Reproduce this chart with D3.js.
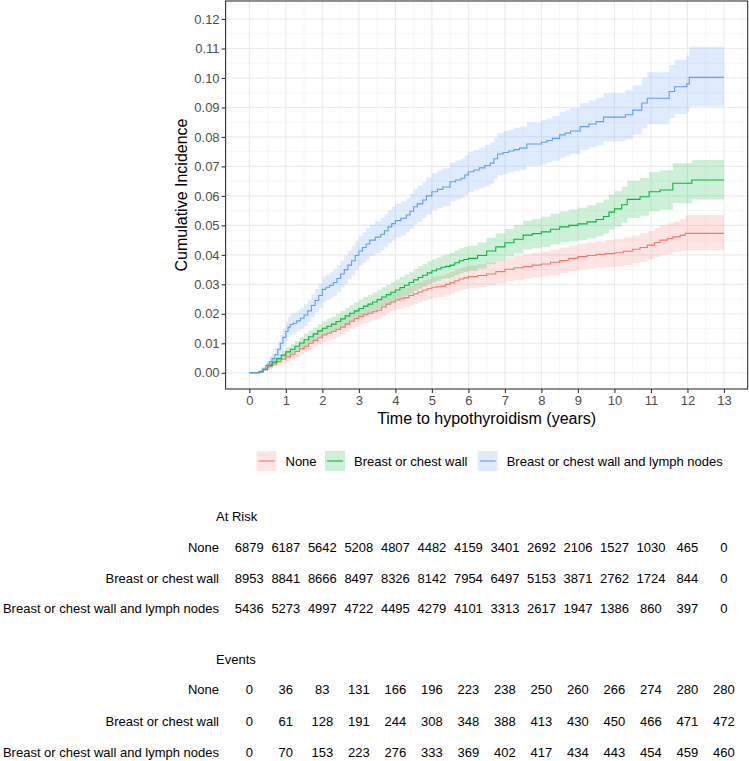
<!DOCTYPE html>
<html>
<head>
<meta charset="utf-8">
<script src="https://cdn.jsdelivr.net/npm/d3@7"></script>
<style>
  body { margin: 0; background: #fff; }
  svg { font-family: "Liberation Sans", Arial, sans-serif; }
</style>
</head>
<body>
<svg id="chart" width="749" height="761"></svg>
<script>
// groups, in legend order
var groups = ["None", "Breast or chest wall", "Breast or chest wall and lymph nodes"];
var colors = ["#F8766D", "#00BA38", "#619CFF"];

var xTicks = [0, 1, 2, 3, 4, 5, 6, 7, 8, 9, 10, 11, 12, 13];
var yTicks = [0, 0.01, 0.02, 0.03, 0.04, 0.05, 0.06, 0.07, 0.08, 0.09, 0.10, 0.11, 0.12];

// [time, estimate, lower, upper]
var noneCurve = [
  [0, 0, 0, 0], [0.27, 0.0003, 0.0001, 0.0005], [0.375, 0.0011, 0.0006, 0.0016],
  [0.5, 0.0022, 0.0012, 0.0032], [0.625, 0.0030, 0.0018, 0.0042], [0.75, 0.0038, 0.0025, 0.0051],
  [0.875, 0.0046, 0.0031, 0.0061], [1.0, 0.0054, 0.0038, 0.0070], [1.125, 0.0063, 0.0046, 0.0080],
  [1.25, 0.0072, 0.0054, 0.0090], [1.375, 0.0081, 0.0062, 0.0100], [1.5, 0.0090, 0.0070, 0.0110],
  [1.625, 0.0100, 0.0079, 0.0121], [1.75, 0.0110, 0.0088, 0.0132], [1.875, 0.0119, 0.0096, 0.0142],
  [2.0, 0.0128, 0.0104, 0.0152], [2.125, 0.0134, 0.0110, 0.0158], [2.25, 0.0140, 0.0115, 0.0165],
  [2.375, 0.0147, 0.0122, 0.0172], [2.5, 0.0155, 0.0129, 0.0181], [2.625, 0.0165, 0.0139, 0.0191],
  [2.75, 0.0175, 0.0148, 0.0202], [2.875, 0.0184, 0.0157, 0.0211], [3.0, 0.0192, 0.0164, 0.0220],
  [3.125, 0.0197, 0.0169, 0.0225], [3.25, 0.0202, 0.0173, 0.0231], [3.375, 0.0207, 0.0178, 0.0236],
  [3.5, 0.0212, 0.0182, 0.0242], [3.625, 0.0223, 0.0193, 0.0253], [3.75, 0.0233, 0.0202, 0.0264],
  [3.875, 0.0240, 0.0209, 0.0271], [4.0, 0.0247, 0.0215, 0.0279], [4.125, 0.0251, 0.0219, 0.0283],
  [4.25, 0.0255, 0.0222, 0.0288], [4.375, 0.0262, 0.0229, 0.0295], [4.5, 0.0268, 0.0234, 0.0302],
  [4.625, 0.0274, 0.0240, 0.0308], [4.75, 0.0280, 0.0245, 0.0315], [4.875, 0.0285, 0.0250, 0.0320],
  [5.0, 0.0290, 0.0254, 0.0326], [5.125, 0.0292, 0.0256, 0.0328], [5.25, 0.0294, 0.0258, 0.0330],
  [5.375, 0.0300, 0.0263, 0.0337], [5.5, 0.0305, 0.0268, 0.0342], [5.625, 0.0312, 0.0274, 0.0350],
  [5.75, 0.0318, 0.0280, 0.0356], [5.875, 0.0322, 0.0284, 0.0360], [6.0, 0.0326, 0.0288, 0.0364],
  [6.25, 0.0330, 0.0291, 0.0369], [6.5, 0.0335, 0.0296, 0.0374], [6.75, 0.0343, 0.0303, 0.0383],
  [7.0, 0.0351, 0.0311, 0.0391], [7.25, 0.0356, 0.0315, 0.0397], [7.5, 0.0360, 0.0319, 0.0401],
  [7.75, 0.0365, 0.0323, 0.0407], [8.0, 0.0369, 0.0327, 0.0411], [8.25, 0.0375, 0.0332, 0.0418],
  [8.5, 0.0381, 0.0338, 0.0424], [8.75, 0.0388, 0.0344, 0.0432], [9.0, 0.0394, 0.0350, 0.0438],
  [9.25, 0.0398, 0.0353, 0.0443], [9.5, 0.0401, 0.0356, 0.0446], [9.75, 0.0404, 0.0358, 0.0450],
  [10.0, 0.0407, 0.0361, 0.0453], [10.25, 0.0412, 0.0366, 0.0459], [10.5, 0.0419, 0.0372, 0.0466],
  [10.7, 0.0425, 0.0377, 0.0473], [10.9, 0.0433, 0.0385, 0.0481], [11.1, 0.0442, 0.0393, 0.0491],
  [11.25, 0.0450, 0.0400, 0.0500], [11.45, 0.0455, 0.0404, 0.0506], [11.6, 0.0461, 0.0409, 0.0513],
  [11.8, 0.0466, 0.0412, 0.0522], [11.94, 0.0473, 0.0416, 0.0535], [13, 0.0473, 0.0416, 0.0535]
];

var chestCurve = [
  [0, 0, 0, 0], [0.27, 0.0003, 0.0001, 0.0005], [0.375, 0.0012, 0.0006, 0.0018],
  [0.5, 0.0025, 0.0015, 0.0035], [0.625, 0.0036, 0.0024, 0.0048], [0.75, 0.0048, 0.0035, 0.0061],
  [0.875, 0.0060, 0.0045, 0.0075], [1.0, 0.0071, 0.0055, 0.0087], [1.125, 0.0080, 0.0063, 0.0097],
  [1.25, 0.0090, 0.0072, 0.0108], [1.375, 0.0101, 0.0082, 0.0120], [1.5, 0.0112, 0.0092, 0.0132],
  [1.625, 0.0122, 0.0101, 0.0143], [1.75, 0.0132, 0.0110, 0.0154], [1.875, 0.0142, 0.0119, 0.0165],
  [2.0, 0.0151, 0.0127, 0.0175], [2.125, 0.0158, 0.0133, 0.0183], [2.25, 0.0165, 0.0140, 0.0190],
  [2.375, 0.0174, 0.0148, 0.0200], [2.5, 0.0183, 0.0156, 0.0210], [2.625, 0.0193, 0.0165, 0.0221],
  [2.75, 0.0202, 0.0174, 0.0230], [2.875, 0.0210, 0.0181, 0.0239], [3.0, 0.0218, 0.0188, 0.0248],
  [3.125, 0.0226, 0.0195, 0.0257], [3.25, 0.0233, 0.0202, 0.0264], [3.375, 0.0240, 0.0208, 0.0272],
  [3.5, 0.0248, 0.0216, 0.0280], [3.625, 0.0257, 0.0224, 0.0290], [3.75, 0.0265, 0.0232, 0.0298],
  [3.875, 0.0273, 0.0239, 0.0307], [4.0, 0.0281, 0.0246, 0.0316], [4.125, 0.0289, 0.0253, 0.0325],
  [4.25, 0.0297, 0.0261, 0.0333], [4.375, 0.0306, 0.0269, 0.0343], [4.5, 0.0315, 0.0278, 0.0352],
  [4.625, 0.0323, 0.0285, 0.0361], [4.75, 0.0331, 0.0293, 0.0369], [4.875, 0.0339, 0.0300, 0.0378],
  [5.0, 0.0346, 0.0307, 0.0385], [5.125, 0.0352, 0.0312, 0.0392], [5.25, 0.0358, 0.0318, 0.0398],
  [5.375, 0.0361, 0.0321, 0.0401], [5.5, 0.0365, 0.0324, 0.0406], [5.625, 0.0373, 0.0331, 0.0415],
  [5.75, 0.0380, 0.0338, 0.0422], [5.875, 0.0384, 0.0341, 0.0427], [6.0, 0.0388, 0.0345, 0.0431],
  [6.25, 0.0398, 0.0354, 0.0442], [6.5, 0.0413, 0.0368, 0.0458], [6.75, 0.0427, 0.0381, 0.0473],
  [7.0, 0.0441, 0.0394, 0.0488], [7.25, 0.0453, 0.0405, 0.0501], [7.5, 0.0467, 0.0418, 0.0516],
  [7.75, 0.0472, 0.0422, 0.0522], [8.0, 0.0478, 0.0427, 0.0529], [8.25, 0.0487, 0.0435, 0.0539],
  [8.5, 0.0495, 0.0442, 0.0548], [8.75, 0.0500, 0.0446, 0.0554], [9.0, 0.0505, 0.0450, 0.0560],
  [9.25, 0.0512, 0.0456, 0.0568], [9.5, 0.0520, 0.0463, 0.0577], [9.7, 0.0530, 0.0472, 0.0588],
  [9.85, 0.0545, 0.0486, 0.0604], [10.0, 0.0556, 0.0496, 0.0616], [10.2, 0.0570, 0.0509, 0.0631],
  [10.35, 0.0588, 0.0525, 0.0651], [10.7, 0.0597, 0.0533, 0.0661], [10.95, 0.0614, 0.0548, 0.0680],
  [11.25, 0.0620, 0.0553, 0.0687], [11.6, 0.0643, 0.0575, 0.0711], [12.12, 0.0654, 0.0588, 0.0722],
  [13, 0.0654, 0.0588, 0.0722]
];

var nodesCurve = [
  [0, 0, 0, 0], [0.27, 0.0005, 0.0001, 0.0009], [0.35, 0.0012, 0.0004, 0.0020],
  [0.45, 0.0025, 0.0012, 0.0038], [0.55, 0.0038, 0.0021, 0.0055], [0.62, 0.0048, 0.0029, 0.0067],
  [0.7, 0.0062, 0.0040, 0.0084], [0.78, 0.0080, 0.0055, 0.0105], [0.85, 0.0100, 0.0072, 0.0128],
  [0.92, 0.0120, 0.0090, 0.0150], [1.0, 0.0140, 0.0108, 0.0172], [1.06, 0.0155, 0.0121, 0.0189],
  [1.12, 0.0164, 0.0129, 0.0199], [1.2, 0.0168, 0.0133, 0.0203], [1.3, 0.0176, 0.0140, 0.0212],
  [1.4, 0.0185, 0.0149, 0.0221], [1.5, 0.0196, 0.0159, 0.0233], [1.6, 0.0210, 0.0172, 0.0248],
  [1.7, 0.0228, 0.0189, 0.0267], [1.8, 0.0245, 0.0205, 0.0285], [1.9, 0.0262, 0.0221, 0.0303],
  [2.0, 0.0283, 0.0240, 0.0326], [2.1, 0.0290, 0.0247, 0.0333], [2.2, 0.0297, 0.0253, 0.0341],
  [2.3, 0.0306, 0.0261, 0.0351], [2.4, 0.0320, 0.0274, 0.0366], [2.5, 0.0335, 0.0289, 0.0381],
  [2.6, 0.0350, 0.0303, 0.0397], [2.7, 0.0365, 0.0317, 0.0413], [2.8, 0.0380, 0.0331, 0.0429],
  [2.9, 0.0398, 0.0348, 0.0448], [3.0, 0.0413, 0.0362, 0.0464], [3.1, 0.0425, 0.0373, 0.0477],
  [3.2, 0.0437, 0.0384, 0.0490], [3.3, 0.0450, 0.0397, 0.0503], [3.45, 0.0460, 0.0406, 0.0514],
  [3.6, 0.0470, 0.0415, 0.0525], [3.7, 0.0482, 0.0426, 0.0538], [3.8, 0.0495, 0.0439, 0.0551],
  [3.9, 0.0506, 0.0449, 0.0563], [4.0, 0.0516, 0.0459, 0.0573], [4.15, 0.0524, 0.0466, 0.0582],
  [4.3, 0.0535, 0.0477, 0.0593], [4.4, 0.0548, 0.0489, 0.0607], [4.5, 0.0563, 0.0503, 0.0623],
  [4.6, 0.0573, 0.0512, 0.0634], [4.75, 0.0586, 0.0525, 0.0647], [4.85, 0.0600, 0.0538, 0.0662],
  [5.0, 0.0614, 0.0551, 0.0677], [5.15, 0.0622, 0.0558, 0.0686], [5.3, 0.0630, 0.0566, 0.0694],
  [5.5, 0.0648, 0.0583, 0.0713], [5.65, 0.0654, 0.0588, 0.0720], [5.8, 0.0660, 0.0594, 0.0726],
  [5.9, 0.0671, 0.0604, 0.0738], [6.0, 0.0682, 0.0614, 0.0750], [6.15, 0.0688, 0.0620, 0.0756],
  [6.3, 0.0695, 0.0626, 0.0764], [6.45, 0.0703, 0.0633, 0.0773], [6.6, 0.0711, 0.0641, 0.0781],
  [6.7, 0.0726, 0.0656, 0.0796], [6.8, 0.0742, 0.0671, 0.0813], [6.95, 0.0747, 0.0675, 0.0819],
  [7.1, 0.0752, 0.0680, 0.0824], [7.25, 0.0757, 0.0684, 0.0830], [7.4, 0.0762, 0.0689, 0.0835],
  [7.6, 0.0776, 0.0702, 0.0850], [8.0, 0.0782, 0.0707, 0.0857], [8.15, 0.0788, 0.0713, 0.0863],
  [8.3, 0.0795, 0.0719, 0.0871], [8.5, 0.0807, 0.0730, 0.0884], [8.65, 0.0813, 0.0736, 0.0890],
  [8.8, 0.0820, 0.0742, 0.0898], [9.06, 0.0835, 0.0756, 0.0914], [9.3, 0.0844, 0.0764, 0.0924],
  [9.5, 0.0852, 0.0771, 0.0933], [9.7, 0.0867, 0.0785, 0.0949], [10.3, 0.0875, 0.0792, 0.0958],
  [10.5, 0.0891, 0.0807, 0.0975], [10.75, 0.0915, 0.0829, 0.1001], [10.9, 0.0931, 0.0843, 0.1019],
  [11.5, 0.0954, 0.0864, 0.1044], [11.65, 0.0970, 0.0878, 0.1062], [11.98, 0.0980, 0.0885, 0.1075],
  [12.05, 0.1002, 0.0903, 0.1106], [13, 0.1002, 0.0903, 0.1106]
];

// number at risk / cumulative events at each whole year
var atRiskNone  = [6879, 6187, 5642, 5208, 4807, 4482, 4159, 3401, 2692, 2106, 1527, 1030, 465, 0];
var atRiskChest = [8953, 8841, 8666, 8497, 8326, 8142, 7954, 6497, 5153, 3871, 2762, 1724, 844, 0];
var atRiskNodes = [5436, 5273, 4997, 4722, 4495, 4279, 4101, 3313, 2617, 1947, 1386, 860, 397, 0];
var eventsNone  = [0, 36, 83, 131, 166, 196, 223, 238, 250, 260, 266, 274, 280, 280];
var eventsChest = [0, 61, 128, 191, 244, 308, 348, 388, 413, 430, 450, 466, 471, 472];
var eventsNodes = [0, 70, 153, 223, 276, 333, 369, 402, 417, 434, 443, 454, 459, 460];

var curves = [noneCurve, chestCurve, nodesCurve];

var svg = d3.select("#chart");

var panel = {left: 225.6, right: 747.7, top: 1, bottom: 389};

var x = d3.scaleLinear().domain([-0.65, 13.65]).range([panel.left, panel.right]);
var y = d3.scaleLinear().domain([-0.0055, 0.1261]).range([panel.bottom, panel.top]);

// grid, major + minor
var grid = svg.append("g");
var xMinor = d3.range(-0.5, 13.6, 1);
var yMinor = d3.range(0.005, 0.126, 0.01);

grid.selectAll(".xminor").data(xMinor).enter().append("line")
  .attr("x1", function(d){ return x(d); }).attr("x2", function(d){ return x(d); })
  .attr("y1", panel.top).attr("y2", panel.bottom)
  .attr("stroke", "#f2f2f2").attr("stroke-width", 0.6);
grid.selectAll(".yminor").data(yMinor).enter().append("line")
  .attr("y1", function(d){ return y(d); }).attr("y2", function(d){ return y(d); })
  .attr("x1", panel.left).attr("x2", panel.right)
  .attr("stroke", "#f2f2f2").attr("stroke-width", 0.6);
grid.selectAll(".xmajor").data(xTicks).enter().append("line")
  .attr("x1", function(d){ return x(d); }).attr("x2", function(d){ return x(d); })
  .attr("y1", panel.top).attr("y2", panel.bottom)
  .attr("stroke", "#ebebeb").attr("stroke-width", 1.1);
grid.selectAll(".ymajor").data(yTicks).enter().append("line")
  .attr("y1", function(d){ return y(d); }).attr("y2", function(d){ return y(d); })
  .attr("x1", panel.left).attr("x2", panel.right)
  .attr("stroke", "#ebebeb").attr("stroke-width", 1.1);

// ribbons first, then the step lines
var area = d3.area()
  .curve(d3.curveStepAfter)
  .x(function(d){ return x(d[0]); })
  .y0(function(d){ return y(d[2]); })
  .y1(function(d){ return y(d[3]); });

var line = d3.line()
  .curve(d3.curveStepAfter)
  .x(function(d){ return x(d[0]); })
  .y(function(d){ return y(d[1]); });

svg.append("g").selectAll("path").data(curves).enter().append("path")
  .attr("d", area)
  .attr("fill", function(d, i){ return colors[i]; })
  .attr("fill-opacity", 0.2);

svg.append("g").selectAll("path").data(curves).enter().append("path")
  .attr("d", line)
  .attr("fill", "none")
  .attr("stroke", function(d, i){ return colors[i]; })
  .attr("stroke-width", 1.1);

// panel border
svg.append("rect")
  .attr("x", panel.left).attr("y", panel.top)
  .attr("width", panel.right - panel.left).attr("height", panel.bottom - panel.top)
  .attr("fill", "none").attr("stroke", "#333").attr("stroke-width", 1.1);

// axes
var yAxis = svg.append("g")
  .attr("transform", "translate(" + panel.left + ",0)")
  .call(d3.axisLeft(y).tickValues(yTicks).tickFormat(d3.format(".2f")).tickSize(4).tickPadding(2));
var xAxis = svg.append("g")
  .attr("transform", "translate(0," + panel.bottom + ")")
  .call(d3.axisBottom(x).tickValues(xTicks).tickFormat(d3.format("d")).tickSize(4).tickPadding(3));

[yAxis, xAxis].forEach(function(ax){
  ax.select(".domain").remove();
  ax.selectAll(".tick line").attr("stroke", "#333").attr("stroke-width", 1.1);
  ax.selectAll(".tick text")
    .attr("fill", "#4d4d4d")
    .style("font-size", "13px")
    .style("font-family", "Liberation Sans, Arial, sans-serif");
});

svg.append("text")
  .attr("x", (panel.left + panel.right) / 2).attr("y", 424)
  .attr("text-anchor", "middle")
  .style("font-size", "16px")
  .text("Time to hypothyroidism (years)");

svg.append("text")
  .attr("transform", "translate(187," + ((panel.top + panel.bottom) / 2) + ") rotate(-90)")
  .attr("text-anchor", "middle")
  .style("font-size", "16px")
  .text("Cumulative Incidence");

// legend
var legendKeys = [256.5, 325, 477.7];
var legend = svg.append("g").selectAll("g").data(groups).enter().append("g")
  .attr("transform", function(d, i){ return "translate(" + legendKeys[i] + ",451)"; });
legend.append("rect")
  .attr("width", 20).attr("height", 20)
  .attr("fill", function(d, i){ return colors[i]; })
  .attr("fill-opacity", 0.2);
legend.append("line")
  .attr("x1", 2).attr("x2", 18).attr("y1", 10).attr("y2", 10)
  .attr("stroke", function(d, i){ return colors[i]; })
  .attr("stroke-width", 1.1);
legend.append("text")
  .attr("x", 29).attr("y", 10).attr("dy", "0.35em")
  .style("font-size", "13px")
  .text(function(d){ return d; });

// risk tables
function table(title, rows, titleY, rowY) {
  var g = svg.append("g").style("font-size", "13px");
  g.append("text").attr("x", 216).attr("y", titleY).attr("dy", "0.35em").text(title);
  rows.forEach(function(vals, i){
    g.append("text")
      .attr("x", 219).attr("y", rowY[i]).attr("dy", "0.35em")
      .attr("text-anchor", "end")
      .text(groups[i]);
    g.selectAll(".v" + i).data(vals).enter().append("text")
      .attr("x", function(d, j){ return x(xTicks[j]); })
      .attr("y", rowY[i]).attr("dy", "0.35em")
      .attr("text-anchor", "middle")
      .text(function(d){ return d; });
  });
}

table("At Risk", [atRiskNone, atRiskChest, atRiskNodes], 516, [547, 578, 608]);
table("Events", [eventsNone, eventsChest, eventsNodes], 659, [689, 721, 752]);
</script>
</body>
</html>
